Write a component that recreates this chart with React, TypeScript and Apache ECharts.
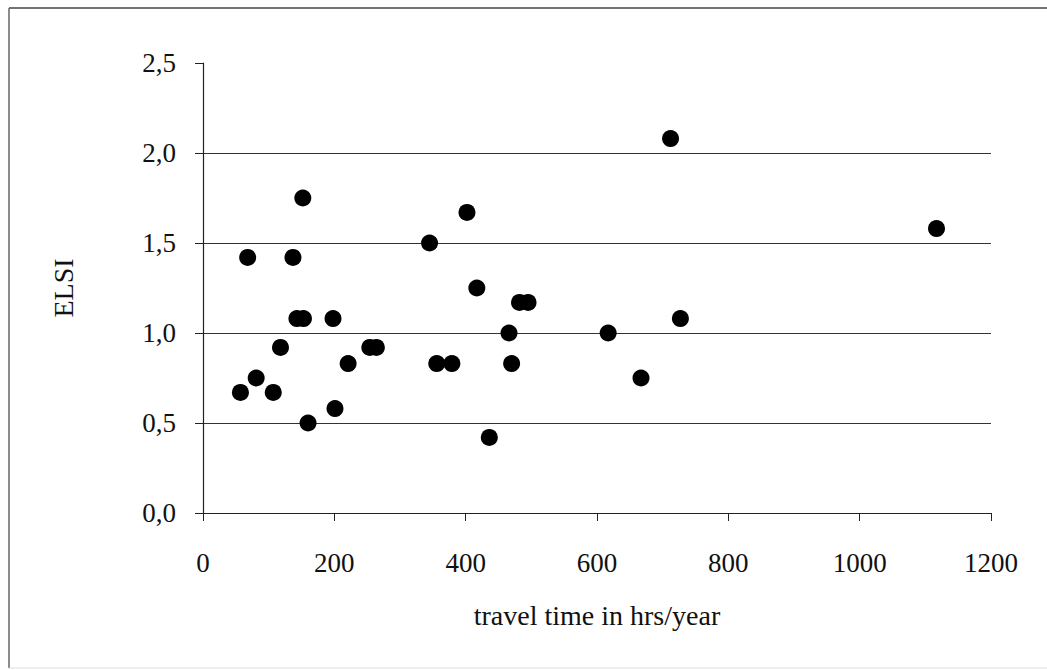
import React, { useEffect, useRef } from "react";
import * as echarts from "echarts";

const travelTime: number[] = [57, 68, 81, 107, 118, 137, 143, 152, 153, 160, 198, 201, 221, 254, 264, 345, 356, 379, 402, 417, 436, 466, 470, 482, 495, 617, 667, 712, 727, 1117];
const elsi: number[] = [0.67, 1.42, 0.75, 0.67, 0.92, 1.42, 1.08, 1.75, 1.08, 0.5, 1.08, 0.58, 0.83, 0.92, 0.92, 1.5, 0.83, 0.83, 1.67, 1.25, 0.42, 1.0, 0.83, 1.17, 1.17, 1.0, 0.75, 2.08, 1.08, 1.58];

const xTitle = "travel time in hrs/year";
const yTitle = "ELSI";
const FONT = "'Liberation Serif', 'Times New Roman', serif";

export default function App() {
  const ref = useRef<HTMLDivElement>(null);
  useEffect(() => {
    if (!ref.current) return;
    const chart = echarts.init(ref.current, null, { renderer: "svg" });
    const data = travelTime.map((x, i) => [x, elsi[i]]);
    chart.setOption({
      animation: false,
      backgroundColor: "#ffffff",
      grid: { left: 203, right: 56, top: 63, bottom: 157 },
      xAxis: {
        type: "value",
        min: 0,
        max: 1200,
        interval: 200,
        name: xTitle,
        nameLocation: "middle",
        nameGap: 88,
        nameTextStyle: { fontFamily: FONT, fontSize: 28, color: "#111" },
        axisLine: { show: true, onZero: false, lineStyle: { color: "#222", width: 1.2 } },
        axisTick: { show: true, inside: false, length: 8, lineStyle: { color: "#222" } },
        axisLabel: {
          margin: 36,
          fontFamily: FONT,
          fontSize: 27,
          color: "#111",
          formatter: (v: number) => String(v),
        },
        splitLine: { show: false },
      },
      yAxis: {
        type: "value",
        min: 0,
        max: 2.5,
        interval: 0.5,
        name: yTitle,
        nameLocation: "middle",
        nameGap: 126,
        nameRotate: 90,
        nameTextStyle: { fontFamily: FONT, fontSize: 28, color: "#111" },
        axisLine: { show: true, onZero: false, lineStyle: { color: "#222", width: 1.2 } },
        axisTick: { show: true, inside: false, length: 8, lineStyle: { color: "#222" } },
        axisLabel: {
          margin: 27,
          fontFamily: FONT,
          fontSize: 27,
          color: "#111",
          formatter: (v: number) => v.toFixed(1).replace(".", ","),
        },
        splitLine: {
          show: true,
          showMinLine: false,
          showMaxLine: false,
          lineStyle: { color: "#333", width: 1.2 },
        },
      },
      graphic: [
        { type: "line", shape: { x1: 9, y1: 8, x2: 1047, y2: 8 }, style: { stroke: "#444", lineWidth: 1.5 } },
        { type: "line", shape: { x1: 9, y1: 8, x2: 9, y2: 668 }, style: { stroke: "#666", lineWidth: 1.5 } },
        { type: "line", shape: { x1: 9, y1: 668, x2: 1047, y2: 668 }, style: { stroke: "#ddd", lineWidth: 1 } },
      ],
      series: [
        {
          type: "scatter",
          data,
          symbol: "circle",
          symbolSize: 17,
          itemStyle: { color: "#000", opacity: 1 },
        },
      ],
    });
    return () => chart.dispose();
  }, []);
  return (
    <div
      ref={ref}
      style={{ position: "fixed", left: 0, top: 0, width: 1047, height: 670 }}
    />
  );
}
